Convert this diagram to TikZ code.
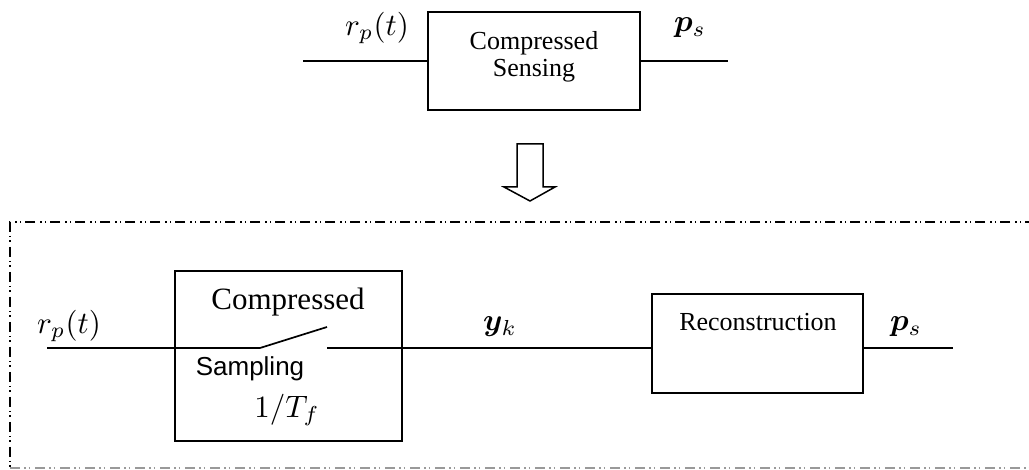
\documentclass[tikz,border=0pt]{standalone}
\usepackage{amsmath,bm}
\usepackage{fontspec}
\newfontfamily\serifrm{Liberation Serif}
\newfontfamily\sansrm{Liberation Sans}
\begin{document}
\begin{tikzpicture}[x=1pt,y=-1pt,
  box/.style={draw, line width=1.8pt, inner sep=0pt},
  wire/.style={line width=1.7pt},
  frame/.style={line width=1.1pt, dash pattern=on 10pt off 4pt on 1.5pt off 3pt on 1.5pt off 5pt},
  lbl/.style={inner sep=0pt, scale=3.1},
  serifl/.style={inner sep=0pt, font=\serifrm\fontsize{26}{27}\selectfont, align=center},
]
\useasboundingbox (0,0) rectangle (1029,470);
% dash-dot frame
\draw[frame] (1035,222) -- (10,222) -- (10,468);
\draw[frame, black!40] (10,468) -- (1035,468);
% top block
\node[box, minimum width=212pt, minimum height=98pt] (cs) at (534,61) {};
\node[serifl] (cst) at (534,57) {Compressed\\Sensing};
\coordinate (in1) at (303,61);
\coordinate (out1) at (728,61);
\draw[wire] (in1) -- (cs.west);
\draw[wire] (cs.east) -- (out1);
\node[lbl] (r1) at (377,28) {$r_p(t)$};
\node[lbl] (p1) at (690,28) {$\bm{p}_s$};
% hollow arrow
\draw[line width=1.5pt, line join=miter] (517,144) -- (543,144) -- (543,187) -- (555,187) -- (530,201) -- (504,187) -- (517,187) -- cycle;
% bottom chain
\node[box, minimum width=227pt, minimum height=170pt] (csamp) at (288.5,356) {};
\node[serifl, font=\serifrm\fontsize{31}{34}\selectfont] (cst2) at (288,302) {Compressed};
\node[inner sep=0pt, font=\sansrm\fontsize{26}{30}\selectfont] (samp) at (250,369) {Sampling};
\node[lbl] (tf) at (287,410) {$1/T_f$};
\coordinate (in2) at (47,348);
\coordinate (piv) at (260,348);
\coordinate (tip) at (327,327);
\coordinate (cont) at (327,348);
\draw[wire] (in2) -- (piv) -- (tip);
\node[box, minimum width=211pt, minimum height=99pt] (rec) at (757.5,343.5) {};
\node[serifl] (rect) at (758,322) {Reconstruction};
\draw[wire] (cont) -- (cont -| rec.west);
\coordinate (out2) at (953,348);
\draw[wire] (out2 -| rec.east) -- (out2);
\node[lbl] (r2) at (69,326) {$r_p(t)$};
\node[lbl] (yk) at (500,327) {$\bm{y}_k$};
\node[lbl] (p2) at (906,327) {$\bm{p}_s$};
\end{tikzpicture}
\end{document}
